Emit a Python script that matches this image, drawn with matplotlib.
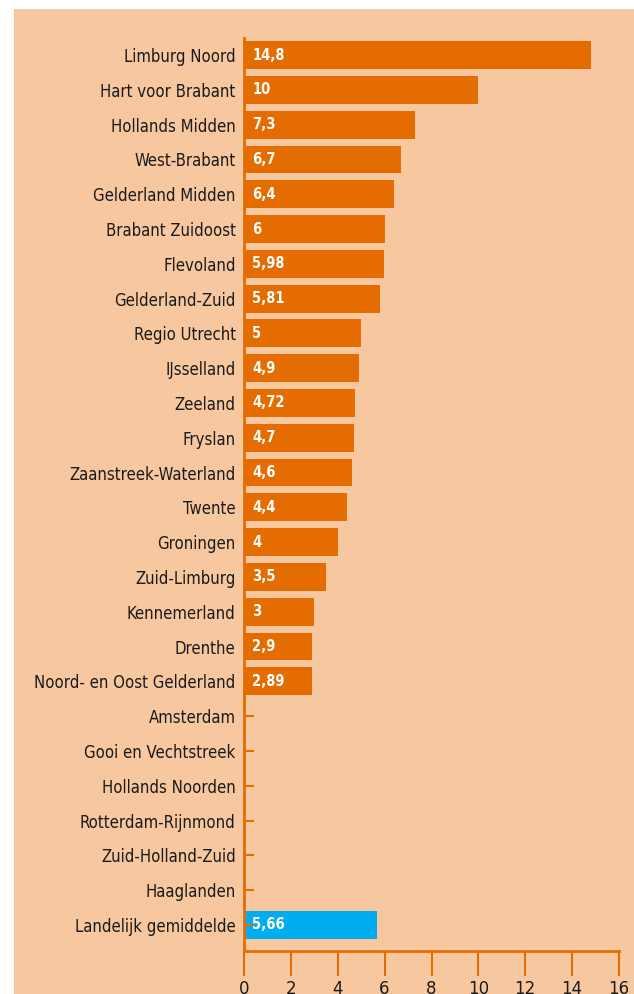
import numpy as np
import matplotlib.pyplot as plt
from matplotlib.patches import Rectangle

# regio's en waarden (lege regio's hebben geen waarde)
regions = ["Limburg Noord", "Hart voor Brabant", "Hollands Midden", "West-Brabant",
           "Gelderland Midden", "Brabant Zuidoost", "Flevoland", "Gelderland-Zuid",
           "Regio Utrecht", "IJsselland", "Zeeland", "Fryslan", "Zaanstreek-Waterland",
           "Twente", "Groningen", "Zuid-Limburg", "Kennemerland", "Drenthe",
           "Noord- en Oost Gelderland", "Amsterdam", "Gooi en Vechtstreek",
           "Hollands Noorden", "Rotterdam-Rijnmond", "Zuid-Holland-Zuid", "Haaglanden",
           "Landelijk gemiddelde"]
values = [14.8, 10, 7.3, 6.7, 6.4, 6, 5.98, 5.81, 5, 4.9, 4.72, 4.7, 4.6, 4.4, 4,
          3.5, 3, 2.9, 2.89, None, None, None, None, None, None, 5.66]
xticks = [0, 2, 4, 6, 8, 10, 12, 14, 16]

orange = "#e46c00"
blue = "#00aeef"
bg = "#f7c8a0"

fig = plt.figure(figsize=(6.34, 9.94), dpi=100)
fig.patch.set_facecolor("white")
fig.patches.append(Rectangle((14 / 634, 0), 1, 1 - 9 / 994, transform=fig.transFigure,
                             facecolor=bg, edgecolor="none", zorder=-10))

ax = fig.add_axes([244 / 634, 1 - 951 / 994, (619 - 244) / 634, (951 - 38) / 994])
ax.set_facecolor("none")

y = np.arange(len(regions))
for i, v in enumerate(values):
    if v is None:
        continue
    col = blue if regions[i] == "Landelijk gemiddelde" else orange
    ax.barh(i, v, height=0.8, color=col)
    ax.text(0.35, i, str(v).replace(".", ","), color="white", fontweight="bold",
            fontsize=10.5, va="center", ha="left", fontstretch="condensed")

ax.set_ylim(len(regions) - 0.25, -0.49)
ax.set_xlim(0, 16)
ax.set_yticks(y)
ax.set_yticklabels(regions, fontsize=12, color="#1a1a1a", fontstretch="condensed")
ax.set_xticks(xticks)
ax.set_xticklabels([str(t) for t in xticks], fontsize=12, color="#1a1a1a")

for s in ["top", "right"]:
    ax.spines[s].set_visible(False)
for s in ["left", "bottom"]:
    ax.spines[s].set_color(orange)
    ax.spines[s].set_linewidth(2)
ax.tick_params(axis="y", direction="in", length=7, width=1.5, color=orange, pad=6)
ax.tick_params(axis="x", direction="out", length=18, width=1.5, color=orange, pad=3)

fig.savefig("out.png", dpi=100)
